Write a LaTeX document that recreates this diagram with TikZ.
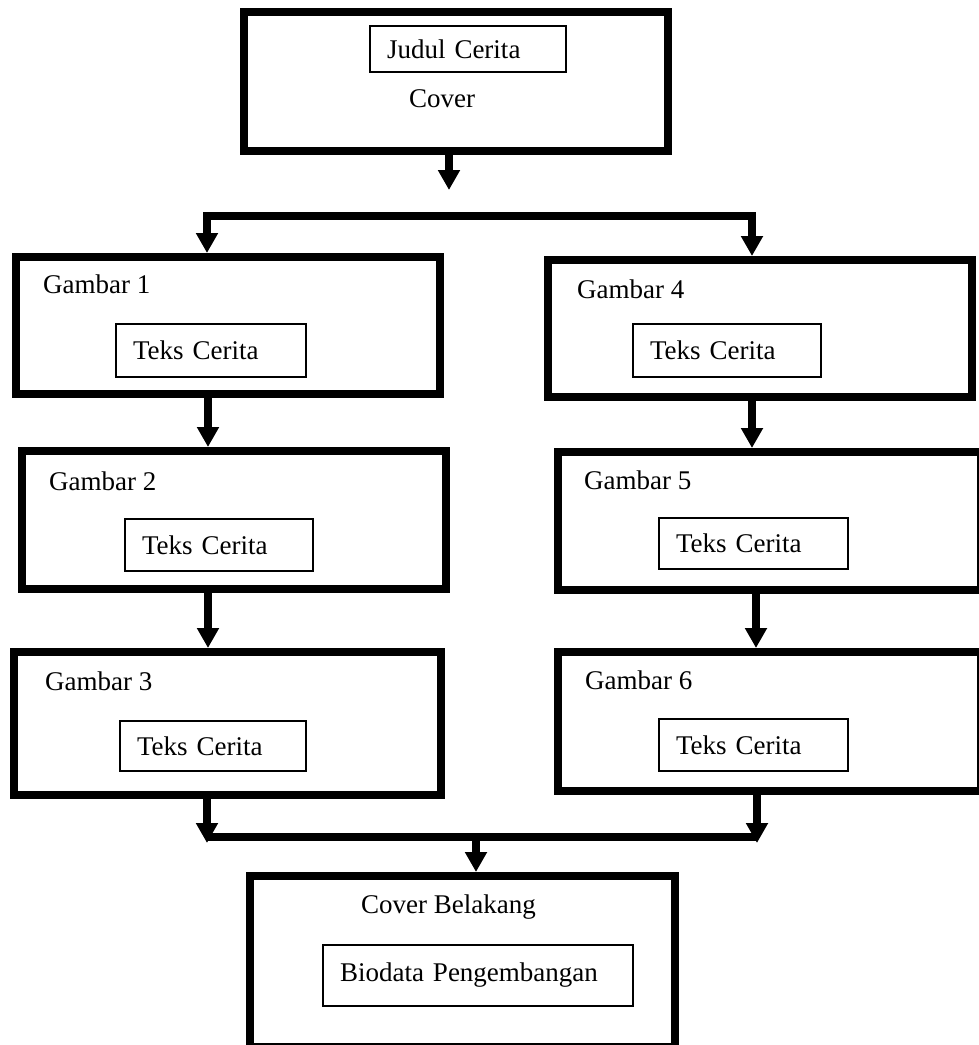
\documentclass[tikz,border=0pt]{standalone}
\usepackage{fontspec}
\setmainfont{Liberation Serif}
\usetikzlibrary{arrows.meta}
\tikzset{
  bigbox/.style={draw=black, line width=8pt, inner sep=0pt},
  inbox/.style={draw=black, line width=1.4pt, inner xsep=17pt, inner ysep=0pt, align=left, font=\fontsize{27}{30}\selectfont},
  lbl/.style={anchor=base west, inner sep=0pt, font=\fontsize{27}{30}\selectfont},
  conn/.style={line width=8pt, line join=miter},
  arr/.style={line width=8pt, line join=miter, -{Triangle[width=21pt,length=20pt]}}
}
\begin{document}
\begin{tikzpicture}[x=1pt,y=-1pt]
\useasboundingbox (0,0) rectangle (979,1045);
\fill[white] (0,0) rectangle (979,1045);
% outer boxes
\node[bigbox, minimum width=424pt, minimum height=139pt] (cover) at (456,81) {};
\node[bigbox, minimum width=424pt, minimum height=137pt] (g1) at (228,325.5) {};
\node[bigbox, minimum width=424pt, minimum height=137pt] (g4) at (760,328.5) {};
\node[bigbox, minimum width=424pt, minimum height=138pt] (g2) at (234,520) {};
\node[bigbox, minimum width=423pt, minimum height=138pt] (g5) at (769.5,521) {};
\node[bigbox, minimum width=427pt, minimum height=143pt] (g3) at (227.5,723.5) {};
\node[bigbox, minimum width=423pt, minimum height=139pt] (g6) at (769.5,721.5) {};
\node[bigbox, minimum width=425pt, minimum height=171pt] (cb) at (462.5,961.5) {};
% inner boxes
\node[inbox, text width=162pt, minimum height=46pt] (judul) at (468,49) {Judul Cerita};
\node[inbox, text width=156pt, minimum height=53pt] (t1) at (211,350.5) {Teks Cerita};
\node[inbox, text width=154pt, minimum height=53pt] (t4) at (727,350.5) {Teks Cerita};
\node[inbox, text width=154pt, minimum height=52pt] (t2) at (219,545) {Teks Cerita};
\node[inbox, text width=155pt, minimum height=51pt] (t5) at (753.5,543.5) {Teks Cerita};
\node[inbox, text width=152pt, minimum height=50pt] (t3) at (213,746) {Teks Cerita};
\node[inbox, text width=155pt, minimum height=52pt] (t6) at (753.5,745) {Teks Cerita};
\node[inbox, text width=276pt, minimum height=61pt] (bio) at (478,975.5) {Biodata Pengembangan};
% labels
\node[lbl] (lcover) at (409,107) {Cover};
\node[lbl] (lg1) at (43,293) {Gambar 1};
\node[lbl] (lg4) at (577,298) {Gambar 4};
\node[lbl] (lg2) at (49,490) {Gambar 2};
\node[lbl] (lg5) at (584,489) {Gambar 5};
\node[lbl] (lg3) at (45,690) {Gambar 3};
\node[lbl] (lg6) at (585,689) {Gambar 6};
\node[lbl] (lcb) at (361,913) {Cover Belakang};
% junction coordinates
\coordinate (ctip) at (449,190);
\coordinate (jl) at (207,216);
\coordinate (jr) at (752,216);
\coordinate (bl) at (207,837);
\coordinate (br) at (757,837);
\coordinate (bm) at (476,837);
\coordinate (c12) at (208,0);
\coordinate (c45) at (752,0);
\coordinate (c56) at (756,0);
% connectors
\draw[arr] (cover.south -| ctip) -- (ctip);
\draw[arr] (jr) -- (jl) -- (jl |- g1.north);
\draw[arr] (jl) -- (jr) -- (jr |- g4.north);
\draw[arr] (g1.south -| c12) -- (c12 |- g2.north);
\draw[arr] (g2.south -| c12) -- (c12 |- g3.north);
\draw[arr] (g4.south -| c45) -- (c45 |- g5.north);
\draw[arr] (g5.south -| c56) -- (c56 |- g6.north);
\draw[arr, shorten >=-2pt] (g3.south -| bl) -- ([yshift=-4pt]bl);
\draw[arr, shorten >=-2pt] (g6.south -| br) -- ([yshift=-4pt]br);
\draw[conn] (bl) -- (br);
\draw[arr] (bm) -- (bm |- cb.north);
\end{tikzpicture}
\end{document}
